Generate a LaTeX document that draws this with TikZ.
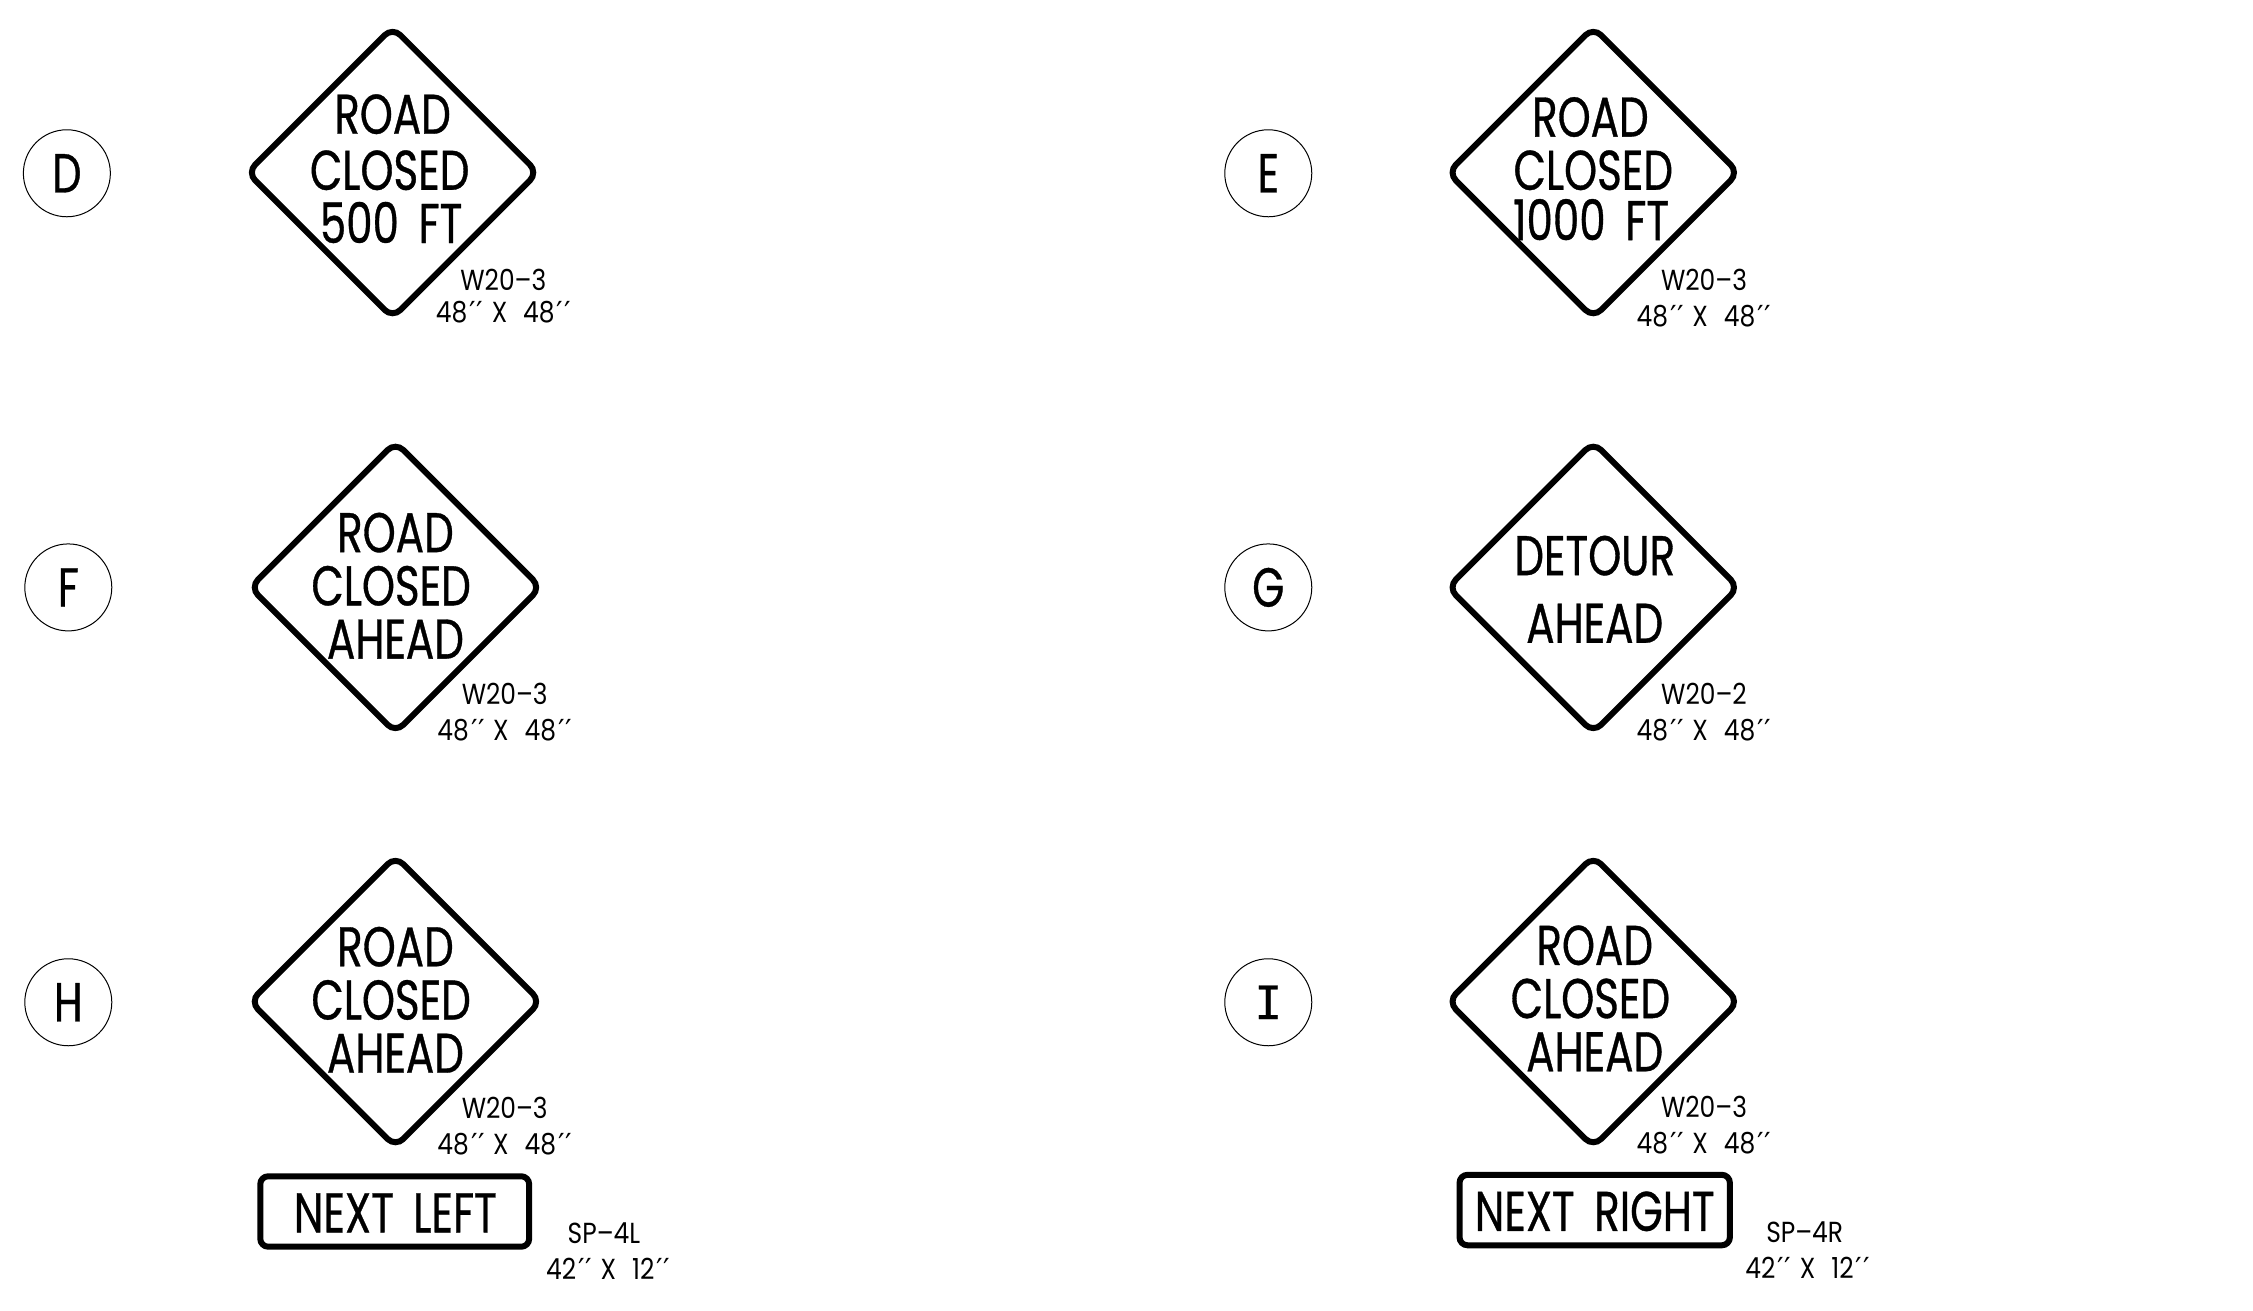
\documentclass[tikz,border=0pt]{standalone}
\usepackage{fontspec}
\newfontfamily\signfont[FakeStretch=0.75,FakeBold=0.6]{Poppins}
\newfontfamily\smallfont[FakeStretch=0.86]{Poppins}
\newfontfamily\primefont{DejaVu Sans}
\newfontfamily\monoI[FakeBold=0.5]{DejaVu Sans Mono}
\newcommand{\pr}{\hspace{0.08em}{\primefont\scalebox{1}{′\hspace{0.02em}′}}\hspace{0.12em}}
\newcommand{\sgn}[2]{#1\pr\hspace{0.17em}X\hspace{0.55em}#2\pr}
\tikzset{
  sign/.style={draw=black,line width=6pt,rounded corners=11pt,fill=white},
  plate/.style={draw=black,line width=6pt,rounded corners=8pt,fill=white},
  letter/.style={draw=black,line width=1pt,circle,minimum size=87pt,inner sep=0pt,font=\signfont\fontsize{55}{55}\selectfont},
  big/.style={anchor=base,inner sep=0pt,font=\signfont\fontsize{56}{56}\selectfont},
  small/.style={anchor=base,inner sep=0pt,font=\smallfont\fontsize{29}{29}\selectfont},
}
\begin{document}
\begin{tikzpicture}[x=1.438pt,y=-1.438pt]
\useasboundingbox (0,0) rectangle (1566.8,911.7);
\fill[white] (0,0) rectangle (1566.8,911.7);
% circles
\node[letter] (cD) at (46.5,120.5) {D};
\node[letter] (cE) at (882,120.5) {E};
\node[letter] (cF) at (47.5,408.5) {F};
\node[letter] (cG) at (882,408.5) {G};
\node[letter] (cH) at (47.5,697) {H};
\node[letter] (cI) at (882,697) {\monoI\fontsize{46}{46}\selectfont I};
% diamonds
\draw[sign] (273,19) -- (374,120) -- (273,221) -- (172,120) -- cycle;
\draw[sign] (1108,19) -- (1209,120) -- (1108,221) -- (1007,120) -- cycle;
\draw[sign] (275,307.5) -- (376,408.5) -- (275,509.5) -- (174,408.5) -- cycle;
\draw[sign] (1108,307.5) -- (1209,408.5) -- (1108,509.5) -- (1007,408.5) -- cycle;
\draw[sign] (275,595.5) -- (376,696.5) -- (275,797.5) -- (174,696.5) -- cycle;
\draw[sign] (1108,595.5) -- (1209,696.5) -- (1108,797.5) -- (1007,696.5) -- cycle;
% plates
\draw[plate] (181,818) rectangle (368,867);
\draw[plate] (1015,817) rectangle (1203,866);
% sign text
\node[big] (d1) at (273,93) {ROAD};
\node[big] (d2) at (271,132) {CLOSED};
\node[big] (d3) at (272,169) {500\hspace{0.35em}FT};
\node[big] (e1) at (1106,95) {ROAD};
\node[big] (e2) at (1108,132) {CLOSED};
\node[big] (e3) at (1106.5,167) {1000\hspace{0.35em}FT};
\node[big] (f1) at (275,384) {ROAD};
\node[big] (f2) at (272,421) {CLOSED};
\node[big] (f3) at (275,458) {AHEAD};
\node[big] (g1) at (1109,400) {DETOUR};
\node[big] (g2) at (1109,447) {AHEAD};
\node[big] (h1) at (275,672) {ROAD};
\node[big] (h2) at (272,709) {CLOSED};
\node[big] (h3) at (275,746) {AHEAD};
\node[big] (i1) at (1109,671) {ROAD};
\node[big] (i2) at (1106,708) {CLOSED};
\node[big] (i3) at (1109,745) {AHEAD};
\node[big] (p1) at (275,857) {NEXT\hspace{0.35em}LEFT};
\node[big] (p2) at (1109,856) {NEXT\hspace{0.35em}RIGHT};
% codes
\node[small] (dc) at (350,202) {W20–3};
\node[small] (ds) at (350,224) {\sgn{48}{48}};
\node[small] (ec) at (1185,202) {W20–3};
\node[small] (es) at (1185,227) {\sgn{48}{48}};
\node[small] (fc) at (351,490) {W20–3};
\node[small] (fs) at (351,515) {\sgn{48}{48}};
\node[small] (gc) at (1185,490) {W20–2};
\node[small] (gs) at (1185,515) {\sgn{48}{48}};
\node[small] (hc) at (351,778) {W20–3};
\node[small] (hs) at (351,803) {\sgn{48}{48}};
\node[small] (ic) at (1185,777) {W20–3};
\node[small] (is) at (1185,802) {\sgn{48}{48}};
\node[small] (lc) at (420,865) {SP–4L};
\node[small] (ls) at (423,890) {\sgn{42}{12}};
\node[small] (rc) at (1255,864) {SP–4R};
\node[small] (rs) at (1257,889) {\sgn{42}{12}};
\end{tikzpicture}
\end{document}
